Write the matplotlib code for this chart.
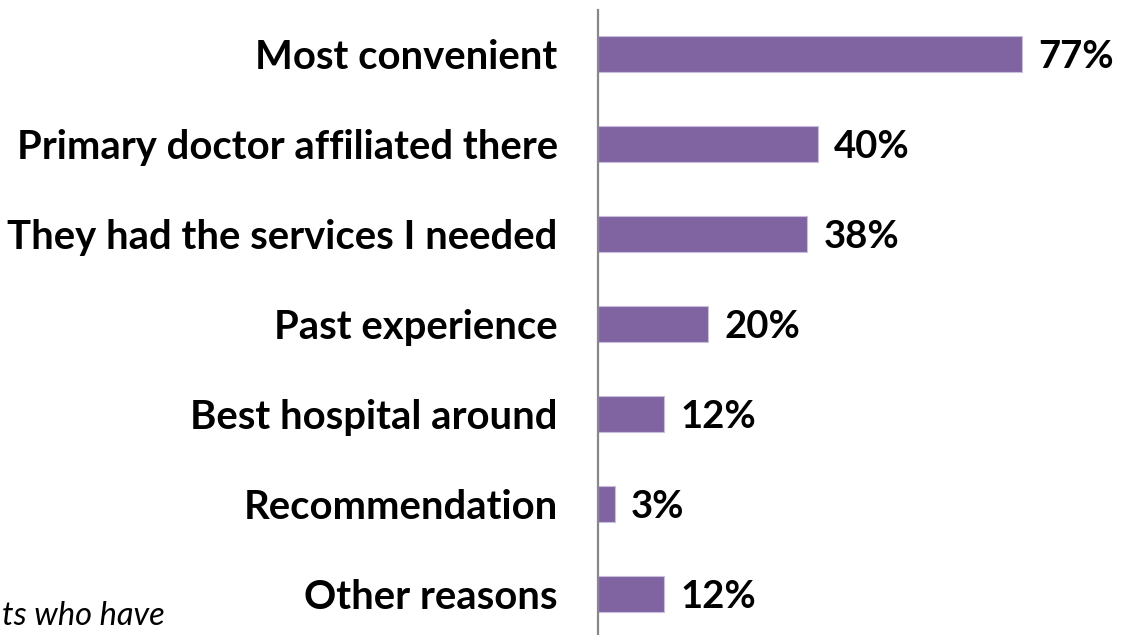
import matplotlib
matplotlib.use("Agg")
import matplotlib.pyplot as plt

categories = [
    "Most convenient",
    "Primary doctor affiliated there",
    "They had the services I needed",
    "Past experience",
    "Best hospital around",
    "Recommendation",
    "Other reasons",
]
values = [77, 40, 38, 20, 12, 3, 12]
value_labels = [f"{v}%" for v in values]
footnote = "ts who have"

BAR_COLOR = "#8064A2"
EDGE_COLOR = "#C9BEDB"
FONT = "Lato"

fig = plt.figure(figsize=(11.24, 6.35), dpi=100)
ax = fig.add_axes([598 / 1124, 0.0, 1 - 598 / 1124, 1 - 10 / 635])

pos = list(range(len(categories)))
ax.barh(pos, values, height=0.4, color=BAR_COLOR, edgecolor=EDGE_COLOR, linewidth=0.8)

ax.set_xlim(0, 95.5)
ax.set_ylim(6.456, -0.489)

for p, v, lab in zip(pos, values, value_labels):
    ax.annotate(lab, xy=(v, p), xytext=(11.5, -2.5), textcoords="offset points",
                ha="left", va="center", fontsize=27.5, fontweight="bold",
                family=FONT, color="black")

ax.set_yticks(pos)
ax.set_yticklabels(categories, fontsize=28.8, fontweight="bold", family=FONT)
ax.tick_params(axis="y", length=0, pad=29)
ax.set_xticks([])

for side in ("top", "right", "bottom"):
    ax.spines[side].set_visible(False)
ax.spines["left"].set_color("#888888")
ax.spines["left"].set_linewidth(1.6)

fig.text(2 / 1124, 1 - 616 / 635, footnote, ha="left", va="center",
         fontsize=23.5, style="italic", family=FONT, color="black")

fig.savefig("out.png", dpi=100)
